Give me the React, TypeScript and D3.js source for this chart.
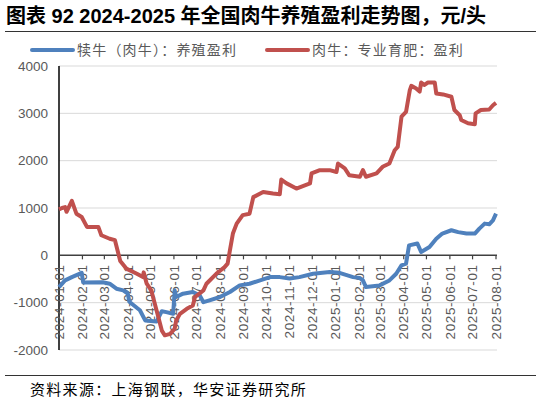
import * as d3 from "d3";

// 犊牛（肉牛）：养殖盈利
const calfDates = [
  "2024-01-01", "2024-01-09", "2024-01-18", "2024-01-31", "2024-02-02", "2024-02-28",
  "2024-03-08", "2024-03-17", "2024-03-26", "2024-04-01", "2024-04-03", "2024-04-17",
  "2024-04-24", "2024-05-09", "2024-05-16", "2024-05-22", "2024-05-31", "2024-06-02",
  "2024-06-04", "2024-06-13", "2024-06-26", "2024-07-05", "2024-07-10", "2024-07-18",
  "2024-08-01", "2024-08-14", "2024-08-27", "2024-09-09", "2024-09-23", "2024-10-06",
  "2024-10-19", "2024-11-01", "2024-11-14", "2024-12-02", "2024-12-24", "2025-01-06",
  "2025-01-24", "2025-02-02", "2025-02-06", "2025-02-10", "2025-02-28", "2025-03-13",
  "2025-03-22", "2025-03-29", "2025-04-04", "2025-04-08", "2025-04-19", "2025-04-24",
  "2025-05-05", "2025-05-14", "2025-05-22", "2025-06-03", "2025-06-12", "2025-06-23",
  "2025-07-04", "2025-07-10", "2025-07-17", "2025-07-23", "2025-07-28", "2025-08-01",
];
const calfValues = [
  -670, -530, -460, -370, -575, -570,
  -600, -705, -740, -810, -980, -1160,
  -1375, -1400, -1180, -1200, -1235, -740,
  -880, -810, -775, -845, -990, -950,
  -880, -775, -635, -600, -530, -460,
  -460, -490, -460, -390, -350, -370,
  -460, -480, -530, -670, -635, -530,
  -390, -210, -175, 210, 250, 70,
  175, 350, 460, 530, 490, 460,
  460, 565, 670, 655, 740, 880,
];

// 肉牛：专业育肥：盈利
const fattenDates = [
  "2024-01-01", "2024-01-05", "2024-01-09", "2024-01-11", "2024-01-18", "2024-01-24",
  "2024-01-31", "2024-02-07", "2024-02-22", "2024-02-26", "2024-03-08", "2024-03-15",
  "2024-03-22", "2024-03-30", "2024-04-13", "2024-04-21", "2024-04-22", "2024-04-26",
  "2024-05-02", "2024-05-09", "2024-05-16", "2024-05-20", "2024-05-27", "2024-06-02",
  "2024-06-04", "2024-06-09", "2024-06-18", "2024-06-26", "2024-06-29", "2024-07-10",
  "2024-07-14", "2024-07-27", "2024-08-07", "2024-08-11", "2024-08-14", "2024-08-18",
  "2024-08-23", "2024-08-31", "2024-09-09", "2024-09-14", "2024-09-27", "2024-10-10",
  "2024-10-19", "2024-10-21", "2024-10-28", "2024-11-10", "2024-11-28", "2024-11-30",
  "2024-12-11", "2024-12-24", "2025-01-02", "2025-01-04", "2025-01-13", "2025-01-19",
  "2025-02-02", "2025-02-06", "2025-02-10", "2025-02-24", "2025-03-04", "2025-03-13",
  "2025-03-20", "2025-03-24", "2025-03-29", "2025-04-04", "2025-04-09", "2025-04-11",
  "2025-04-17", "2025-04-22", "2025-04-24", "2025-04-28", "2025-05-03", "2025-05-12",
  "2025-05-14", "2025-05-23", "2025-06-03", "2025-06-07", "2025-06-14", "2025-06-16",
  "2025-06-25", "2025-07-04", "2025-07-05", "2025-07-12", "2025-07-23", "2025-07-28",
  "2025-08-01",
];
const fattenValues = [
  970, 1000, 1020, 920, 1150, 880,
  810, 600, 600, 425, 350, 320,
  -120, -280, -390, -460, -360, -600,
  -740, -1160, -1590, -1690, -1660, -1550,
  -1375, -1235, -1130, -1060, -880, -740,
  -600, -390, -250, -175, 100, 460,
  670, 850, 880, 1230, 1340, 1305,
  1290, 1600, 1520, 1410, 1520, 1730,
  1800, 1800, 1760, 1940, 1835, 1690,
  1660, 1800, 1660, 1730, 1870, 1940,
  2220, 2290, 2930, 3030, 3490, 3580,
  3530, 3460, 3650, 3600, 3650, 3650,
  3420, 3400, 3350, 3070, 2960, 2860,
  2790, 2770, 3000, 3070, 3080, 3170,
  3220,
];

const yTicks = [4000, 3000, 2000, 1000, 0, -1000, -2000];
const legendLabels = ["犊牛（肉牛）：养殖盈利", "肉牛：专业育肥：盈利"];
const colors = ["#4F81BD", "#C0504D"];

const W = 541;
const H = 406;
const parse = d3.timeParse("%Y-%m-%d");
const fmt = d3.timeFormat("%Y-%m-%d");

export default function App() {
  const x = d3
    .scaleTime()
    .domain([parse("2024-01-01")!, parse("2025-08-01")!])
    .range([59, 496]);
  const y = d3.scaleLinear().domain([-2000, 4000]).range([350, 66]);
  const line = d3
    .line<[Date, number]>()
    .x((d) => x(d[0]))
    .y((d) => y(d[1]));

  const calf = calfDates.map((d, i) => [parse(d)!, calfValues[i]] as [Date, number]);
  const fatten = fattenDates.map((d, i) => [parse(d)!, fattenValues[i]] as [Date, number]);
  const months = d3.timeMonth.range(parse("2024-01-01")!, d3.timeDay.offset(parse("2025-08-01")!, 1));

  const font = '"Liberation Sans", "Noto Sans CJK SC", sans-serif';
  const cjk = '"Noto Sans CJK SC", sans-serif';

  return (
    <svg
      width={W}
      height={H}
      style={{ position: "absolute", left: 0, top: 0, background: "#fff" }}
      fontFamily={font}
    >
      <text x={6} y={23} fontSize={20} fontWeight="bold" fill="#000">
        图表 92 2024-2025 年全国肉牛养殖盈利走势图，元/头
      </text>
      <line x1={5} x2={536} y1={31.5} y2={31.5} stroke="#333" strokeWidth={1.2} />

      {/* legend */}
      {legendLabels.map((l, i) => {
        const lx = i === 0 ? 32 : 267;
        return (
          <g key={l}>
            <line x1={lx} x2={lx + 41} y1={50} y2={50} stroke={colors[i]} strokeWidth={4} strokeLinecap="round" />
            <text x={lx + 45} y={55} fontSize={14} letterSpacing={1.2} fill="#595959" fontFamily={cjk}>
              {l}
            </text>
          </g>
        );
      })}

      {/* grid */}
      {yTicks.map((t) => (
        <g key={t}>
          {t !== 0 && (
            <line x1={59} x2={497} y1={y(t)} y2={y(t)} stroke="#d9d9d9" strokeWidth={1} />
          )}
          <text x={48} y={y(t)} dy="0.35em" textAnchor="end" fontSize={13.5} fill="#595959">
            {t}
          </text>
        </g>
      ))}

      {/* axes */}
      <line x1={59} x2={59} y1={y(4000)} y2={y(-2000)} stroke="#000" strokeWidth={1.5} />
      <line x1={59} x2={497} y1={y(0)} y2={y(0)} stroke="#404040" strokeWidth={1.5} />
      {months.map((m) => (
        <g key={m.getTime()}>
          <line x1={x(m)} x2={x(m)} y1={y(0)} y2={y(0) + 4} stroke="#404040" strokeWidth={1.2} />
          <text
            transform={`translate(${x(m)},${y(0) + 9}) rotate(-90)`}
            textAnchor="end"
            dy="0.35em"
            fontSize={13.5}
            letterSpacing={0.6}
            fill="#595959"
          >
            {fmt(m)}
          </text>
        </g>
      ))}

      <path d={line(calf)!} fill="none" stroke={colors[0]} strokeWidth={4} strokeLinejoin="round" />
      <path d={line(fatten)!} fill="none" stroke={colors[1]} strokeWidth={4} strokeLinejoin="round" />

      <line x1={5} x2={536} y1={375.5} y2={375.5} stroke="#333" strokeWidth={1.2} />
      <text x={30} y={395} fontSize={15} letterSpacing={1.3} fill="#000" fontFamily={cjk}>
        资料来源：上海钢联，华安证券研究所
      </text>
    </svg>
  );
}
